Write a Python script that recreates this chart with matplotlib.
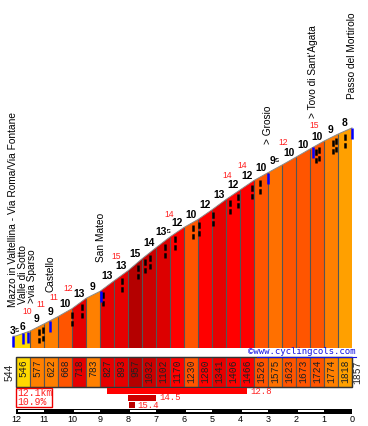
import matplotlib
matplotlib.use('Agg')
import matplotlib.pyplot as plt
import matplotlib.transforms as mtransforms
from matplotlib.patches import Polygon, Rectangle
import numpy as np

# profile data: km to the top and altitude at each mark
km_marks = [12.1, 12.0, 11.5, 11.0, 10.5, 10.0, 9.5, 9.0, 8.5, 8.0, 7.5, 7.0, 6.5,
            6.0, 5.5, 5.0, 4.5, 4.0, 3.5, 3.0, 2.5, 2.0, 1.5, 1.0, 0.5, 0.0]
altitudes = [544, 546, 577, 622, 668, 718, 783, 827, 893, 957, 1032, 1102, 1170,
             1230, 1280, 1341, 1406, 1466, 1526, 1575, 1623, 1673, 1724, 1774, 1818, 1857]
grades = [3.5, 6, 9, 9, 10, 13, 9, 13, 13, 15, 14, 13.5, 12,
          10, 12, 13, 12, 12, 10, 9.5, 10, 10, 10, 9, 8]

# steepest bits inside a segment (red small numbers)
max_km = [11.61, 11.11, 10.64, 10.14, 8.43, 6.54, 4.46, 3.93, 2.46, 1.36]
max_grade = [10, 11, 11, 12, 15, 14, 14, 14, 12, 15]

# hairpins
hairpin_km = [11.18, 11.02, 10.0, 9.64, 8.89, 8.21, 7.64, 7.39, 7.21, 6.68, 6.32,
              5.68, 5.46, 4.96, 4.36, 4.07, 3.57, 3.29, 1.29, 1.18, 0.68, 0.57, 0.25]

places = ["Mazzo in Valtellina - Via Roma/Via Fontane", "Valle di Sotto", ">via Sparso",
          "Castello", "San Mateo", "> Grosio", "> Tovo di Sant'Agata", "Passo del Mortirolo"]
place_km = [12.1, 11.75, 11.57, 10.77, 8.96, 3.0, 1.39, 0.0]

# steepest 5 km, 1 km, 200 m
steep_start = [8.75, 8.0, 7.96]
steep_len = [5, 1, 0.2]
steep_grade = [12.8, 14.5, 15.4]

km_ticks = list(range(13))


def grade_color(g):
    if g < 7:
        return '#FFD800'
    if g < 8.5:
        return '#FFA000'
    if g < 9.25:
        return '#FF8000'
    if g < 9.75:
        return '#FF7000'
    if g < 11:
        return '#FF5500'
    if g < 12.5:
        return '#FF0000'
    if g < 13.25:
        return '#E60000'
    if g < 13.75:
        return '#DC0000'
    if g < 14.5:
        return '#CC0000'
    return '#B40000'


def grade_text(g):
    if g != int(g):
        return str(int(g)) + '\u2075'
    return str(int(g))


def alt_at(k):
    return np.interp(k, km_marks[::-1], altitudes[::-1])


W, H = 368, 426
fig = plt.figure(figsize=(W / 100, H / 100), dpi=100)
bottom_px = 78
ax = fig.add_axes([0, bottom_px / H, 1, (H - bottom_px) / H])
xl = (12 + 16 / 28, -16 / 28)
base, top = 470, 2663
ax.set_xlim(*xl)
ax.set_ylim(base, top)
ax.axis('off')
mpp = (top - base) / (H - bottom_px)


def off(a, dx, dy):
    return mtransforms.offset_copy(a.transData, fig=fig, x=dx, y=dy, units='dots')


# coloured segments
for i, g in enumerate(grades):
    k0, k1 = km_marks[i], km_marks[i + 1]
    a0, a1 = altitudes[i], altitudes[i + 1]
    ax.add_patch(Polygon([(k0, base), (k0, a0), (k1, a1), (k1, base)],
                         closed=True, facecolor=grade_color(g), edgecolor='none'))
ax.vlines(km_marks[2:-1], base, altitudes[2:-1], color='#555555', lw=0.8)
ax.plot(km_marks, altitudes, color='#8a8a8a', lw=0.7)

# hairpins
for k in hairpin_km:
    a = alt_at(k)
    ax.plot([k, k], [a - 3 * mpp, a - 17 * mpp], color='black', lw=1.8,
            ls=(0, (2.5, 1)), solid_capstyle='butt')

# places
fam = ['Liberation Sans', 'DejaVu Sans']
last_px = -100
for name, k in zip(places, place_km):
    a = alt_at(k)
    ax.plot([k, k], [a, a - 11 * mpp], color='#0000FF', lw=1.8, solid_capstyle='butt')
    px = 16 + (12 - k) * 28
    shift = 0
    if px - last_px < 9:
        shift = last_px + 9 - px
    last_px = px + shift
    ax.text(k, a, name, rotation=90, ha='center', va='bottom', fontsize=7.3,
            family=fam, color='black', transform=off(ax, shift, 29))

# gradient numbers
for i, g in enumerate(grades):
    kc = (km_marks[i] + km_marks[i + 1]) / 2
    ax.text(kc, altitudes[i + 1], grade_text(g), ha='center', va='center',
            fontsize=7.4, fontweight='bold', family=fam, color='black',
            transform=off(ax, 0, 4.5))

# red numbers sit above the black numbers
for k, g in zip(max_km, max_grade):
    y = max(alt_at(k) + 18 * mpp, alt_at(k - 0.3) + 17 * mpp)
    ax.text(k, y, str(g), ha='center', va='center', fontsize=6.2,
            family=fam, color='#FF2020')

# lower part: altitude strip, stats, km scale
ax2 = fig.add_axes([0, 0, 1, bottom_px / H])
ax2.set_xlim(*xl)
ax2.set_ylim(bottom_px, 0)
ax2.axis('off')

for i in range(1, len(grades)):
    k0, k1 = km_marks[i], km_marks[i + 1]
    ax2.add_patch(Rectangle((k0, 9), k1 - k0, 30, facecolor=grade_color(grades[i]),
                            edgecolor='#555555', lw=0.8))
    ax2.text((k0 + k1) / 2, 11.5, str(altitudes[i]), rotation=90, ha='center', va='top',
             fontsize=7, family='Liberation Mono', color='#222222')
ax2.add_patch(Rectangle((km_marks[1], 9), km_marks[-1] - km_marks[1], 30, fill=False,
                        edgecolor='#333333', lw=1))
ax2.text(km_marks[0], 16, str(altitudes[0]), rotation=90, ha='center', va='top',
         fontsize=7.5, family=fam, color='#222222', transform=off(ax2, -4, 0))
ax2.text(km_marks[-1], 13, str(altitudes[-1]), rotation=90, ha='center', va='top',
         fontsize=7, family='Liberation Mono', color='#222222', transform=off(ax2, 5, 0))

cc = ax2.text(km_marks[-1], 8.3, '\u00a9www.cyclingcols.com', ha='right', va='bottom',
              fontsize=6.5, family='DejaVu Sans Mono', color='#1414E6',
              transform=off(ax2, 4, 0))
fig.canvas.draw()
bb = cc.get_window_extent()
inv = ax2.transData.inverted()
ux0 = inv.transform((bb.x0 + 8, bb.y0))[0]
ux1 = inv.transform((bb.x1, bb.y0))[0]
ax2.plot([ux0, ux1], [9.2, 9.2], color='#1414E6', lw=0.8)

# total length and mean gradient
dist = km_marks[0] - km_marks[-1]
avg = (altitudes[-1] - altitudes[0]) / (dist * 10)
ax2.add_patch(Rectangle((12.0, 40), -1.29, 19, fill=False, edgecolor='#EE0000', lw=1))
ax2.text(11.95, 45.2, '%.1fkm' % dist, ha='left', va='center', fontsize=7,
         family='Liberation Mono', color='#FF2020')
ax2.text(11.95, 53.8, '%.1f%%' % avg, ha='left', va='center', fontsize=7,
         family='Liberation Mono', color='#FF2020')

bar_colors = ['#FF0000', '#CC0000', '#BB0000']
bar_rows = [40, 47, 54]
for s, l, g, c, y in zip(steep_start, steep_len, steep_grade, bar_colors, bar_rows):
    ax2.add_patch(Rectangle((s, y), -l, 6, facecolor=c, edgecolor='none'))
    ax2.text(s - l, y + 3, '%.1f' % g, ha='left', va='center', fontsize=6.5,
             family='Liberation Mono', color='#FF2020', transform=off(ax2, 3, 0))

# km scale
ax2.add_patch(Rectangle((12, 61), -12, 5, facecolor='black', edgecolor='none'))
for k in range(12, 0, -2):
    ax2.add_patch(Rectangle((k - 0.07, 62.4), -0.93, 1.8, facecolor='white', edgecolor='none'))
for k in km_ticks:
    ax2.text(k, 71.5, str(k), ha='center', va='center', fontsize=6.5, family=fam,
             color='black')

fig.savefig('out.png', dpi=100)
